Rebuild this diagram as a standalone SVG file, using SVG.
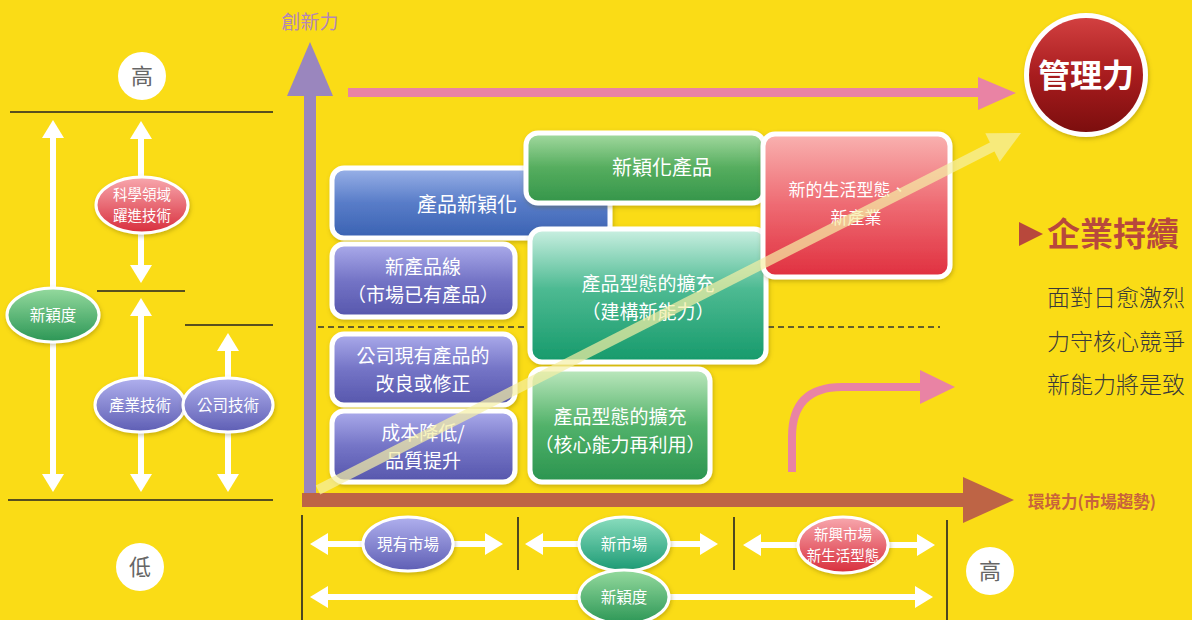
<svg xmlns="http://www.w3.org/2000/svg" width="1192" height="620" viewBox="0 0 1192 620">
<defs>
<style>
text{font-family:"Noto Sans CJK TC","Noto Sans CJK SC",sans-serif;}
.bt{fill:#fff;font-size:20px;text-anchor:middle;}
.bt2{fill:#fff;font-size:19px;text-anchor:middle;}
.et{fill:#fff;font-size:15.5px;text-anchor:middle;}
.et2{fill:#fff;font-size:14.5px;text-anchor:middle;}
.box{stroke:#fff;stroke-width:5;filter:url(#sh);}
.ell{stroke:#fff;stroke-width:3;filter:url(#sh);}
.rule{stroke:#222;stroke-width:1.6;}
.dbl{stroke:#fff;stroke-width:6;marker-start:url(#wh);marker-end:url(#wh);fill:none;}
.hc{fill:#fff;}
.ht{fill:#666;font-size:22px;text-anchor:middle;}
.body{fill:#3a3a3a;font-size:23px;font-weight:300;}
</style>
<filter id="sh" x="-10%" y="-10%" width="125%" height="130%"><feDropShadow dx="1" dy="2" stdDeviation="2" flood-color="#6b5a00" flood-opacity="0.35"/></filter>
<marker id="wh" viewBox="0 0 18 22" refX="8" refY="11" markerWidth="18" markerHeight="22" markerUnits="userSpaceOnUse" orient="auto-start-reverse"><path d="M0,0 L18,11 L0,22 z" fill="#fff"/></marker>
<linearGradient id="gPurple" x1="0" y1="0" x2="0" y2="1"><stop offset="0" stop-color="#ABABEB"/><stop offset="0.5" stop-color="#7474C6"/><stop offset="1" stop-color="#5656AC"/></linearGradient>
<linearGradient id="gBlue" x1="0" y1="0" x2="0" y2="1"><stop offset="0" stop-color="#9AB2E8"/><stop offset="0.5" stop-color="#587CC8"/><stop offset="1" stop-color="#3A62B2"/></linearGradient>
<linearGradient id="gGreen1" x1="0" y1="0" x2="0" y2="1"><stop offset="0" stop-color="#A4DAA0"/><stop offset="0.5" stop-color="#55AD5E"/><stop offset="1" stop-color="#34954A"/></linearGradient>
<linearGradient id="gTeal" x1="0" y1="0" x2="0" y2="1"><stop offset="0" stop-color="#CBF0E2"/><stop offset="0.45" stop-color="#4DBA92"/><stop offset="1" stop-color="#169A6B"/></linearGradient>
<linearGradient id="gGreen2" x1="0" y1="0" x2="0" y2="1"><stop offset="0" stop-color="#BDE8BE"/><stop offset="0.5" stop-color="#52B26A"/><stop offset="1" stop-color="#2A944F"/></linearGradient>
<linearGradient id="gRed" x1="0" y1="0" x2="0" y2="1"><stop offset="0" stop-color="#F9B2B0"/><stop offset="0.5" stop-color="#EE6A72"/><stop offset="1" stop-color="#E0303F"/></linearGradient>
<linearGradient id="gDark" x1="0" y1="0" x2="0" y2="1"><stop offset="0" stop-color="#D24040"/><stop offset="0.5" stop-color="#A81C1E"/><stop offset="1" stop-color="#7C0E0E"/></linearGradient>
<linearGradient id="eP" x1="0" y1="0" x2="0" y2="1"><stop offset="0" stop-color="#B0B0EE"/><stop offset="1" stop-color="#5E5EB4"/></linearGradient>
<linearGradient id="eG" x1="0" y1="0" x2="0" y2="1"><stop offset="0" stop-color="#95DA9E"/><stop offset="1" stop-color="#2B9655"/></linearGradient>
<linearGradient id="eR" x1="0" y1="0" x2="0" y2="1"><stop offset="0" stop-color="#F8A8AE"/><stop offset="1" stop-color="#D82E3C"/></linearGradient>
<linearGradient id="eT" x1="0" y1="0" x2="0" y2="1"><stop offset="0" stop-color="#8ADDBE"/><stop offset="1" stop-color="#1C9A74"/></linearGradient>
</defs>
<rect width="1192" height="620" fill="#FADC16"/>

<g id="connectors">
  <line class="rule" x1="10" y1="112" x2="273" y2="112"/>
  <line class="rule" x1="97" y1="291" x2="185" y2="291"/>
  <line class="rule" x1="185" y1="325" x2="273" y2="325"/>
  <line class="rule" x1="8" y1="500" x2="273" y2="500"/>
  <line class="dbl" x1="53" y1="130" x2="53" y2="482"/>
  <line class="dbl" x1="141" y1="131" x2="141" y2="273"/>
  <line class="dbl" x1="141" y1="308" x2="141" y2="482"/>
  <line class="dbl" x1="228" y1="343" x2="228" y2="482"/>
  <line class="rule" x1="302" y1="515" x2="302" y2="620"/>
  <line class="rule" x1="518" y1="517" x2="518" y2="570"/>
  <line class="rule" x1="734" y1="517" x2="734" y2="570"/>
  <line class="rule" x1="947" y1="520" x2="947" y2="620"/>
  <line class="dbl" x1="320" y1="544" x2="493" y2="544"/>
  <line class="dbl" x1="535" y1="544" x2="708" y2="544"/>
  <line class="dbl" x1="753" y1="545" x2="925" y2="545"/>
  <line class="dbl" x1="320" y1="597" x2="923" y2="597"/>
  <line x1="318" y1="327" x2="940" y2="327" stroke="#333" stroke-width="1.5" stroke-dasharray="6 4"/>
  <rect x="304" y="92" width="12" height="408" fill="#9A86BE"/>
  <polygon points="287,96 310,42 333,96" fill="#9A86BE"/>
  <rect x="348" y="88" width="632" height="9" fill="#E983A4"/>
  <polygon points="978,77 1016,93 978,110" fill="#E983A4"/>
  <path d="M792,472 L792,437 Q792,387 842,387 L922,387" fill="none" stroke="#E983A4" stroke-width="8"/>
  <polygon points="920,370 955,387 920,404" fill="#E983A4"/>
</g>

<g id="box-product-novelty"><rect class="box" x="332" y="168" width="278" height="70" rx="12" fill="url(#gBlue)"/><text class="bt" x="467" y="212">產品新穎化</text></g>
<g id="box-novel-product"><rect class="box" x="526" y="133" width="238" height="70" rx="12" fill="url(#gGreen1)"/><text class="bt" x="662" y="175">新穎化產品</text></g>
<g id="box-expand-new"><rect class="box" x="530" y="229" width="236" height="133" rx="12" fill="url(#gTeal)"/><text class="bt2" x="648" y="291">產品型態的擴充<tspan x="648" dy="28">（建構新能力）</tspan></text></g>
<g id="box-new-life"><rect class="box" x="763" y="134" width="187" height="143" rx="12" fill="url(#gRed)"/><text class="bt" style="font-size:17px" x="848" y="196">新的生活型態、<tspan x="856" dy="28">新產業</tspan></text></g>
<g id="box-new-line"><rect class="box" x="332" y="244" width="183" height="73" rx="12" fill="url(#gPurple)"/><text class="bt2" x="423" y="274">新產品線<tspan x="423" dy="28">（市場已有產品）</tspan></text></g>
<g id="box-improve"><rect class="box" x="332" y="334" width="183" height="71" rx="12" fill="url(#gPurple)"/><text class="bt2" x="423" y="363">公司現有產品的<tspan x="423" dy="28">改良或修正</tspan></text></g>
<g id="box-cost"><rect class="box" x="332" y="411" width="183" height="71" rx="12" fill="url(#gPurple)"/><text class="bt2" x="423" y="440">成本降低/<tspan x="423" dy="28">品質提升</tspan></text></g>
<g id="box-expand-core"><rect class="box" x="530" y="369" width="180" height="113" rx="12" fill="url(#gGreen2)"/><text class="bt2" x="620" y="424">產品型態的擴充<tspan x="620" dy="28">（核心能力再利用）</tspan></text></g>

<g id="connectors-top">
  <rect x="302" y="493" width="663" height="14" fill="#BE6445"/>
  <polygon points="963,477 1014,500 963,523" fill="#BE6445"/>
  <g opacity="0.7">
    <line x1="318" y1="490" x2="994" y2="146" stroke="#F6F0A6" stroke-width="10"/>
    <polygon points="1021,133 999.7,161.8 985.3,133.2" fill="#F6F0A6"/>
  </g>
</g>

<g id="label-innovation"><text x="310" y="29" fill="#B386B8" font-size="19" text-anchor="middle">創新力</text></g>
<g id="label-environment"><text x="1028" y="508" fill="#C8633C" font-size="16.5" font-weight="bold">環境力(市場趨勢)</text></g>

<g id="node-high-left"><circle class="hc" cx="142" cy="76" r="24"/><text class="ht" x="142" y="84">高</text></g>
<g id="node-low-left"><circle class="hc" cx="140" cy="567" r="24"/><text class="ht" x="140" y="575">低</text></g>
<g id="node-high-bottom"><circle class="hc" cx="990" cy="571" r="24"/><text class="ht" x="990" y="579">高</text></g>

<g id="ell-novelty-left"><ellipse class="ell" cx="53" cy="315" rx="46" ry="27" fill="url(#eG)"/><text class="et" x="53" y="321">新穎度</text></g>
<g id="ell-science"><ellipse class="ell" cx="142" cy="205" rx="46" ry="28" fill="url(#eR)"/><text class="et2" x="142" y="199.5">科學領域<tspan x="142" dy="21.5">躍進技術</tspan></text></g>
<g id="ell-industry-tech"><ellipse class="ell" cx="140" cy="405" rx="45" ry="27" fill="url(#eP)"/><text class="et" x="140" y="411">產業技術</text></g>
<g id="ell-company-tech"><ellipse class="ell" cx="228" cy="405" rx="45" ry="27" fill="url(#eP)"/><text class="et" x="228" y="411">公司技術</text></g>

<g id="ell-existing-market"><ellipse class="ell" cx="408" cy="544" rx="45" ry="27" fill="url(#eP)"/><text class="et" x="408" y="550">現有市場</text></g>
<g id="ell-new-market"><ellipse class="ell" cx="624" cy="544" rx="45" ry="27" fill="url(#eT)"/><text class="et" x="624" y="550">新市場</text></g>
<g id="ell-emerging"><ellipse class="ell" cx="843" cy="545" rx="45" ry="28" fill="url(#eR)"/><text class="et2" x="843" y="539.5">新興市場<tspan x="843" dy="21.5">新生活型態</tspan></text></g>
<g id="ell-novelty-bottom"><ellipse class="ell" cx="624" cy="597" rx="45" ry="27" fill="url(#eG)"/><text class="et" x="624" y="603">新穎度</text></g>

<g id="node-management"><circle cx="1086" cy="75" r="62" fill="#fff" filter="url(#sh)"/><circle cx="1086" cy="75" r="57" fill="url(#gDark)"/><text x="1086" y="87" fill="#fff" font-size="32" font-weight="bold" text-anchor="middle">管理力</text></g>

<g id="text-panel">
  <polygon points="1019,222 1019,246 1043,234" fill="#B8483C"/>
  <text x="1047" y="246" fill="#B8483C" font-size="33" font-weight="bold">企業持續</text>
  <text class="body" x="1047" y="306">面對日愈激烈</text>
  <text class="body" x="1047" y="350">力守核心競爭</text>
  <text class="body" x="1047" y="393">新能力將是致</text>
</g>
</svg>
